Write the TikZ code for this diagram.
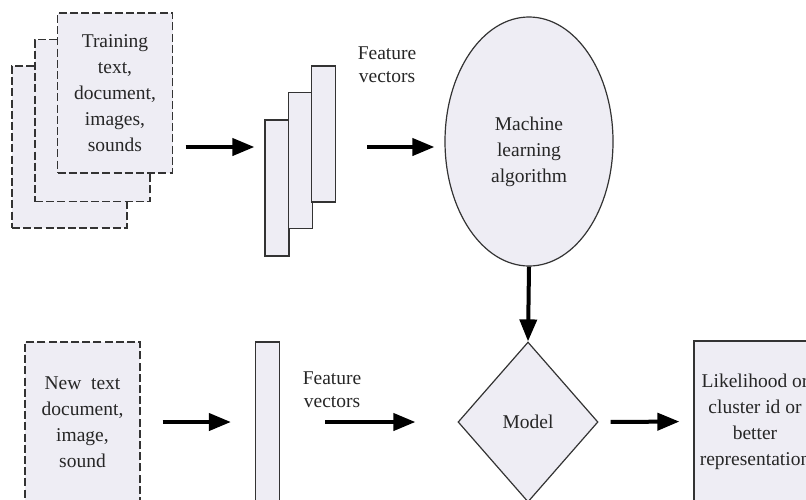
\documentclass[tikz,border=0pt]{standalone}
\usepackage{fontspec}
\setmainfont{Liberation Serif}
\usetikzlibrary{shapes,arrows.meta}
\definecolor{boxfill}{HTML}{EEEDF4}
\definecolor{edge}{HTML}{333333}

\begin{document}
\begin{tikzpicture}[x=0.5pt,y=-0.5pt,
 txt/.style={align=center,text=black!85,font=\fontsize{9.75}{13}\selectfont},
 page/.style={txt,draw=edge,dash pattern=on 4pt off 1.6pt,line width=0.65pt,fill=boxfill,minimum width=57.5pt,minimum height=81pt,inner sep=0pt},
 bar/.style={draw=edge,line width=0.6pt,fill=boxfill,minimum width=12pt,minimum height=68pt,inner sep=0pt},
 lbl/.style={txt,font=\fontsize{9.75}{11.5}\selectfont},
 arr/.style={line width=2pt,-{Triangle[length=11pt,width=8.5pt]}}]
\clip (0,0) rectangle (806,499);
\node[page] (back) at (69.5,147) {};
\node[page] (mid) at (92.5,120.5) {};
\node[page,minimum height=80pt] (train) at (115,93) {Training\\text,\\document,\\images,\\sounds};
\node[bar] (v1) at (277,188) {};
\node[bar] (v2) at (300.5,160.5) {};
\node[bar] (v3) at (323.5,134) {};
\node[lbl] (fv1) at (387,65) {Feature\\vectors};
\node[txt,ellipse,draw=edge,line width=0.6pt,fill=boxfill,minimum width=84pt,minimum height=124.5pt,inner sep=0pt,text height=43pt] (ml) at (529,141.5) {Machine\\learning\\algorithm};
\node[page,minimum height=80pt] (new) at (82.5,422) {New\ \ text\\document,\\image,\\sound};
\node[bar,minimum height=80pt] (v0) at (267.5,422) {};
\node[lbl] (fv2) at (332,390) {Feature\\vectors};
\node[txt,diamond,draw=edge,line width=0.6pt,fill=boxfill,minimum width=70pt,minimum height=80pt,inner sep=0pt] (model) at (528,422) {Model};
\node[txt,draw=edge,line width=0.6pt,fill=boxfill,minimum width=61pt,minimum height=80.5pt,inner sep=0pt] (out) at (755,421.5) {Likelihood or\\cluster id or\\better\\representation};
\draw[arr,shorten <=29pt,shorten >=5pt] (back.east) -- (v1.west |- back.east);
\draw[arr,shorten <=15.5pt,shorten >=5pt] (v3.east |- back.east) -- (ml.west |- back.east);
\draw[arr] (ml.south) -- (model.north);
\draw[arr,shorten <=11pt,shorten >=12pt] (new.east) -- (v0.west);
\draw[arr,shorten <=22.5pt,shorten >=21pt] (v0.east) -- (model.west);
\draw[arr,shorten <=6pt,shorten >=7pt] (model.east) -- (out.west);
\end{tikzpicture}
\end{document}
